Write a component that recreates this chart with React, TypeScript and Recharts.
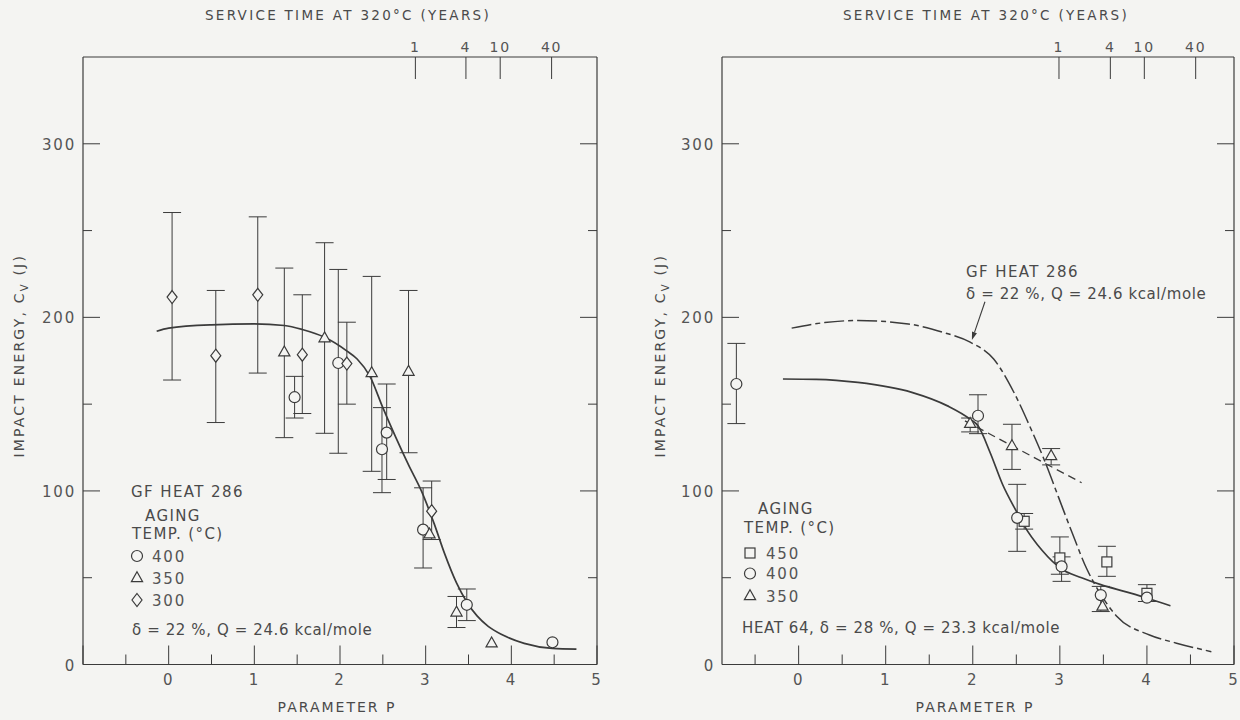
import React from "react";
import { ComposedChart, Line, Scatter, ErrorBar, XAxis, YAxis, ReferenceLine } from "recharts";

const BG = "#f4f4f2";
const INK = "#3b3b3b";
const TXT = "#4a4a4a";
const FONT = "'DejaVu Sans', 'Liberation Sans', sans-serif";

// service-time axis (top): years and the P value each one sits at
const SERVICE_YEARS = [1, 4, 10, 40];
const LEFT_YEAR_P = [2.88, 3.47, 3.87, 4.47];
const RIGHT_YEAR_P = [2.99, 3.58, 3.97, 4.56];

const P_TICKS = [-1, -0.5, 0, 0.5, 1, 1.5, 2, 2.5, 3, 3.5, 4, 4.5, 5];
const ENERGY_TICKS = [0, 50, 100, 150, 200, 250, 300];

// ---- left panel: GF heat 286 ----
const gf286Fit = [
  { p: -0.14, v: 192 }, { p: 0, v: 193.8 }, { p: 0.5, v: 195.7 }, { p: 1.0, v: 196.2 },
  { p: 1.35, v: 195.3 }, { p: 1.56, v: 193 }, { p: 1.82, v: 188.5 }, { p: 2.07, v: 181 },
  { p: 2.2, v: 176 }, { p: 2.35, v: 166 }, { p: 2.5, v: 148 }, { p: 2.65, v: 131 },
  { p: 2.8, v: 115 }, { p: 2.95, v: 100 }, { p: 3.1, v: 81 }, { p: 3.22, v: 64 },
  { p: 3.36, v: 47 }, { p: 3.48, v: 36 }, { p: 3.6, v: 28 }, { p: 3.73, v: 22 },
  { p: 3.9, v: 17 }, { p: 4.15, v: 12.2 }, { p: 4.48, v: 9.3 }, { p: 4.76, v: 8.9 },
];

const left400 = [
  { p: 1.47, v: 154, lo: 142, hi: 166 },
  { p: 1.98, v: 173.7, lo: 121.7, hi: 227.6 },
  { p: 2.49, v: 124, lo: 99, hi: 148 },
  { p: 2.545, v: 133.6, lo: 106.6, hi: 161.6 },
  { p: 2.97, v: 77.7, lo: 55.6, hi: 101.8 },
  { p: 3.48, v: 34.4, lo: 25.3, hi: 43.5 },
  { p: 4.48, v: 12.8 },
];

const left350 = [
  { p: 1.35, v: 179.9, lo: 130.7, hi: 228.4 },
  { p: 1.82, v: 188, lo: 133.2, hi: 243 },
  { p: 2.37, v: 167.9, lo: 111.3, hi: 223.6 },
  { p: 2.8, v: 168.7, lo: 122, hi: 215.5 },
  { p: 3.045, v: 75 },
  { p: 3.36, v: 30, lo: 21.3, hi: 39.2 },
  { p: 3.77, v: 12.2 },
];

const left300 = [
  { p: 0.04, v: 211.7, lo: 163.9, hi: 260.4 },
  { p: 0.55, v: 177.9, lo: 139.4, hi: 215.5 },
  { p: 1.04, v: 213, lo: 167.9, hi: 257.9 },
  { p: 1.56, v: 178.5, lo: 144.6, hi: 213 },
  { p: 2.08, v: 173.4, lo: 150, hi: 197.2 },
  { p: 3.07, v: 88.3, lo: 72, hi: 105.7 },
];

// ---- right panel: heat 64, with the GF 286 fit for comparison ----
const heat64Fit = [
  { p: -0.18, v: 164.5 }, { p: 0.2, v: 164.3 }, { p: 0.68, v: 162.5 }, { p: 1.3, v: 156.8 },
  { p: 1.71, v: 149 }, { p: 1.97, v: 141.3 }, { p: 2.06, v: 137.5 }, { p: 2.2, v: 122 },
  { p: 2.34, v: 104 }, { p: 2.51, v: 87.4 }, { p: 2.59, v: 80 }, { p: 2.8, v: 65.5 },
  { p: 3.02, v: 55 }, { p: 3.25, v: 50 }, { p: 3.47, v: 46 }, { p: 3.75, v: 42 },
  { p: 4.0, v: 38.3 }, { p: 4.27, v: 33.8 },
];

const gf286Compare = [
  { p: -0.08, v: 193.8 }, { p: 0.3, v: 197 }, { p: 0.68, v: 198.2 }, { p: 1.26, v: 196.2 },
  { p: 1.65, v: 191.5 }, { p: 1.97, v: 185.7 }, { p: 2.24, v: 176 }, { p: 2.47, v: 157 },
  { p: 2.67, v: 135.5 }, { p: 2.82, v: 118 }, { p: 2.98, v: 97 }, { p: 3.14, v: 76 },
  { p: 3.31, v: 55 }, { p: 3.45, v: 42 }, { p: 3.65, v: 28 }, { p: 4.03, v: 17 },
  { p: 4.34, v: 12.3 }, { p: 4.74, v: 7.4 },
];

const trend350 = [{ p: 1.91, v: 140.4 }, { p: 3.25, v: 104.7 }];

const right450 = [
  { p: 2.59, v: 82.5, lo: 78, hi: 87 },
  { p: 3.0, v: 61.4, lo: 52, hi: 73.5 },
  { p: 3.54, v: 59.1, lo: 50.8, hi: 68.1 },
  { p: 4.0, v: 41, lo: 36.3, hi: 46 },
];

const right400 = [
  { p: -0.715, v: 161.6, lo: 138.8, hi: 185 },
  { p: 2.06, v: 143.3, lo: 133, hi: 155.4 },
  { p: 2.51, v: 84.5, lo: 65.2, hi: 103.8 },
  { p: 3.02, v: 56.5, lo: 47.9, hi: 62 },
  { p: 3.47, v: 40, lo: 30.5, hi: 45 },
  { p: 4.0, v: 38.5 },
];

const right350 = [
  { p: 1.97, v: 138.7, lo: 134, hi: 142 },
  { p: 2.45, v: 125.9, lo: 112.4, hi: 138.4 },
  { p: 2.9, v: 120.1, lo: 115, hi: 124.4 },
  { p: 3.49, v: 33.4 },
];

// arrow from the "GF HEAT 286" note down to its curve (data coords)
const GF_ARROW_FROM = { x: 2.14, y: 209 };
const GF_ARROW_TO = { x: 1.99, y: 187 };

const errOf = (d: any) => (d.lo == null ? undefined : [d.v - d.lo, d.hi - d.v]);

// ---- markers ----
const CircleMark = ({ cx, cy }: any) => (
  <circle cx={cx} cy={cy} r={5.5} fill={BG} stroke={INK} strokeWidth={1.2} />
);
const TriangleMark = ({ cx, cy }: any) => (
  <polygon points={`${cx},${cy - 6.3} ${cx + 5.6},${cy + 3.6} ${cx - 5.6},${cy + 3.6}`} fill={BG} stroke={INK} strokeWidth={1.2} />
);
const DiamondMark = ({ cx, cy }: any) => (
  <polygon points={`${cx},${cy - 6.5} ${cx + 5},${cy} ${cx},${cy + 6.5} ${cx - 5},${cy}`} fill={BG} stroke={INK} strokeWidth={1.2} />
);
const SquareMark = ({ cx, cy }: any) => (
  <rect x={cx - 5} y={cy - 5} width={10} height={10} fill={BG} stroke={INK} strokeWidth={1.2} />
);

const digitStyle = { fontFamily: FONT, fontSize: 15, fill: "#555", letterSpacing: 1.8 };
const capsStyle = { fontFamily: FONT, fontSize: 14, fill: TXT, letterSpacing: 1.6 };

// ---- axis ticks (all drawn inward like the original) ----
const Y_GAP = 7;
const leftTick = (props: any) => {
  const { x, y, payload } = props;
  const major = payload.value % 100 === 0;
  const edge = x + Y_GAP;
  return (
    <g>
      <line x1={edge} x2={edge + (major ? 17 : 9)} y1={y} y2={y} stroke={INK} strokeWidth={1} />
      {major && (
        <text x={x} y={y + 6} textAnchor="end" style={digitStyle}>
          {payload.value}
        </text>
      )}
    </g>
  );
};

const rightTick = (props: any) => {
  const { x, y, payload } = props;
  const major = payload.value % 100 === 0;
  return <line x1={x} x2={x - (major ? 17 : 9)} y1={y} y2={y} stroke={INK} strokeWidth={1} />;
};

const bottomTick = (props: any) => {
  const { x, y, payload } = props;
  const major = Number.isInteger(payload.value);
  return (
    <g>
      <line x1={x} x2={x} y1={y} y2={y - (major ? 19 : 10)} stroke={INK} strokeWidth={1} />
      {major && payload.value >= 0 && (
        <text x={x} y={y + 20} textAnchor="middle" style={digitStyle}>
          {payload.value}
        </text>
      )}
    </g>
  );
};

const topTick = (yearP: number[]) => (props: any) => {
  const { x, y, payload } = props;
  const i = yearP.findIndex((p) => Math.abs(p - payload.value) < 1e-6);
  return (
    <g>
      <line x1={x} x2={x} y1={y} y2={y + 22} stroke={INK} strokeWidth={1} />
      <text x={x} y={y - 5} textAnchor="middle" style={{ ...digitStyle, fontSize: 14 }}>
        {SERVICE_YEARS[i]}
      </text>
    </g>
  );
};

// ---- axis titles ----
const yTitle = (dx: number) => (props: any) => {
  const vb = props.viewBox;
  const x = vb.x + vb.width - dx;
  const y = vb.y + vb.height / 2 - 5;
  return (
    <text x={x} y={y} transform={`rotate(-90 ${x} ${y})`} textAnchor="middle" dominantBaseline="central" style={{ ...capsStyle, letterSpacing: 2.2 }}>
      IMPACT ENERGY, C<tspan baselineShift="sub" fontSize={10}>V</tspan> (J)
    </text>
  );
};

const topTitle = (props: any) => {
  const vb = props.viewBox;
  return (
    <text x={vb.x + vb.width / 2 + 8} y={vb.y + 8} textAnchor="middle" style={{ ...capsStyle, fontSize: 13.5, letterSpacing: 2.3 }}>
      SERVICE TIME AT 320°C (YEARS)
    </text>
  );
};

const bottomTitle = (props: any) => {
  const vb = props.viewBox;
  return (
    <text x={vb.x + vb.width / 2 - 3} y={vb.y + 47} textAnchor="middle" style={{ ...capsStyle, letterSpacing: 2 }}>
      PARAMETER P
    </text>
  );
};

const arrowShape = (props: any) => {
  const { x1, y1, x2, y2 } = props;
  const a = Math.atan2(y2 - y1, x2 - x1);
  const bx = x2 - 8 * Math.cos(a);
  const by = y2 - 8 * Math.sin(a);
  const s = Math.sin(a) * 2.6;
  const c = Math.cos(a) * 2.6;
  return (
    <g>
      <line x1={x1} y1={y1} x2={bx} y2={by} stroke={INK} strokeWidth={1.1} />
      <polygon points={`${x2},${y2} ${bx + s},${by - c} ${bx - s},${by + c}`} fill={INK} />
    </g>
  );
};

const W = 620;
const H = 720;

function Panel({ offsetLeft, margin, rightWidth, domain, yearP, titleDx, children }: any) {
  const pTicks = P_TICKS.filter((t) => t >= domain[0] && t <= domain[1]);
  return (
    <div style={{ position: "absolute", left: offsetLeft, top: 0 }}>
      <ComposedChart width={W} height={H} margin={margin}>
        <XAxis
          xAxisId="b"
          dataKey="p"
          type="number"
          domain={domain}
          allowDataOverflow
          ticks={pTicks}
          interval={0}
          height={30}
          tickSize={0}
          tickMargin={0}
          tickLine={false}
          axisLine={{ stroke: INK, strokeWidth: 1.2 }}
          tick={bottomTick}
          label={bottomTitle}
        />
        <XAxis
          xAxisId="t"
          orientation="top"
          dataKey="p"
          type="number"
          domain={domain}
          allowDataOverflow
          ticks={yearP}
          interval={0}
          height={45}
          tickSize={0}
          tickMargin={0}
          tickLine={false}
          axisLine={{ stroke: INK, strokeWidth: 1.2 }}
          tick={topTick(yearP)}
          label={topTitle}
        />
        <YAxis
          yAxisId="l"
          dataKey="v"
          type="number"
          domain={[0, 350]}
          allowDataOverflow
          ticks={ENERGY_TICKS}
          interval={0}
          width={50}
          tickSize={0}
          tickMargin={Y_GAP}
          tickLine={false}
          axisLine={{ stroke: INK, strokeWidth: 1.2 }}
          tick={leftTick}
          label={yTitle(titleDx)}
        />
        <YAxis
          yAxisId="r"
          orientation="right"
          dataKey="v"
          type="number"
          domain={[0, 350]}
          allowDataOverflow
          ticks={ENERGY_TICKS}
          interval={0}
          width={rightWidth}
          tickSize={0}
          tickMargin={0}
          tickLine={false}
          axisLine={{ stroke: INK, strokeWidth: 1.2 }}
          tick={rightTick}
        />
        {children}
      </ComposedChart>
    </div>
  );
}

const scatterOf = (data: any[], Mark: any, key: string) => (
  <Scatter key={key} xAxisId="b" yAxisId="l" data={data} isAnimationActive={false} shape={(p: any) => <Mark cx={p.cx} cy={p.cy} />}>
    <ErrorBar dataKey={errOf} direction="y" width={9} stroke={INK} strokeWidth={1} />
  </Scatter>
);

function Legends() {
  const cap = { ...capsStyle, fontSize: 15, letterSpacing: 1.4 };
  const mixed = { ...capsStyle, fontSize: 15, letterSpacing: 0.6 };
  const num = { ...digitStyle, fontSize: 15 };
  return (
    <svg width={1240} height={720} style={{ position: "absolute", left: 0, top: 0, pointerEvents: "none" }}>
      {/* left panel */}
      <text x={131} y={497} style={cap}>GF HEAT 286</text>
      <text x={145} y={521} style={cap}>AGING</text>
      <text x={132} y={539} style={cap}>TEMP. (°C)</text>
      <CircleMark cx={137} cy={556} />
      <text x={152} y={561.5} style={num}>400</text>
      <TriangleMark cx={137} cy={578} />
      <text x={152} y={583.5} style={num}>350</text>
      <DiamondMark cx={137} cy={600} />
      <text x={152} y={605.5} style={num}>300</text>
      <text x={132} y={635} style={mixed}>δ = 22 %, Q = 24.6 kcal/mole</text>

      {/* right panel */}
      <text x={966} y={277} style={cap}>GF HEAT 286</text>
      <text x={966} y={298.5} style={mixed}>δ = 22 %, Q = 24.6 kcal/mole</text>
      <text x={758} y={514} style={cap}>AGING</text>
      <text x={744} y={533} style={cap}>TEMP. (°C)</text>
      <SquareMark cx={750} cy={553} />
      <text x={766} y={558.5} style={num}>450</text>
      <CircleMark cx={750} cy={573.5} />
      <text x={766} y={579} style={num}>400</text>
      <TriangleMark cx={750} cy={596} />
      <text x={766} y={601.5} style={num}>350</text>
      <text x={742} y={632.5} style={mixed}>HEAT 64, δ = 28 %, Q = 23.3 kcal/mole</text>
    </svg>
  );
}

export default function App() {
  return (
    <div style={{ position: "absolute", left: 0, top: 0, width: 1240, height: 720, background: BG, overflow: "hidden" }}>
      <Panel
        offsetLeft={0}
        margin={{ top: 12, right: 13, bottom: 25.5, left: 33 }}
        rightWidth={10}
        domain={[-1, 5]}
        yearP={LEFT_YEAR_P}
        titleDx={64}
      >
        {scatterOf(left400, CircleMark, "l400")}
        {scatterOf(left350, TriangleMark, "l350")}
        {scatterOf(left300, DiamondMark, "l300")}
        <Line key="fit" xAxisId="b" yAxisId="l" data={gf286Fit} dataKey="v" type="monotone" stroke={INK} strokeWidth={1.7} dot={false} activeDot={false} isAnimationActive={false} />
      </Panel>
      <Panel
        offsetLeft={620}
        margin={{ top: 12, right: 2, bottom: 25.5, left: 52 }}
        rightWidth={4}
        domain={[-0.88, 5]}
        yearP={RIGHT_YEAR_P}
        titleDx={62}
      >
        {scatterOf(right450, SquareMark, "r450")}
        {scatterOf(right400, CircleMark, "r400")}
        {scatterOf(right350, TriangleMark, "r350")}
        <Line key="gf" xAxisId="b" yAxisId="l" data={gf286Compare} dataKey="v" type="monotone" stroke={INK} strokeWidth={1.5} strokeDasharray="20 4 5 4" dot={false} activeDot={false} isAnimationActive={false} />
        <Line key="h64" xAxisId="b" yAxisId="l" data={heat64Fit} dataKey="v" type="monotone" stroke={INK} strokeWidth={1.7} dot={false} activeDot={false} isAnimationActive={false} />
        <Line key="t350" xAxisId="b" yAxisId="l" data={trend350} dataKey="v" type="linear" stroke={INK} strokeWidth={1.3} strokeDasharray="8 5" dot={false} activeDot={false} isAnimationActive={false} />
        <ReferenceLine key="arrow" xAxisId="b" yAxisId="l" segment={[GF_ARROW_FROM, GF_ARROW_TO]} shape={arrowShape} ifOverflow="visible" />
      </Panel>
      <Legends />
    </div>
  );
}
